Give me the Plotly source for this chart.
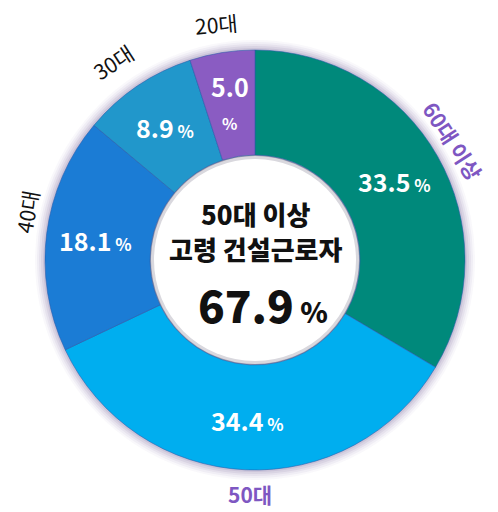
import math
import plotly.graph_objects as go

labels = ["60대 이상", "50대", "40대", "30대", "20대"]
values = [33.5, 34.4, 18.1, 8.9, 5.0]
colors = ["#00897B", "#00AEEF", "#1B7CD5", "#2197CB", "#8A5CC2"]
pct_text = ["33.5", "34.4", "18.1", "8.9", "5.0"]
center_lines = ["50대 이상", "고령 건설근로자"]
center_value = "67.9"

W, H = 490, 504          # figure size (page adds an 8px body margin)
OX, OY = 8, 8
cx, cy, R = 255, 260, 210  # target pixels in the page
hole = 0.5

def px(x):
    return (x - OX) / W

def py(y):
    return 1 - (y - OY) / H

def px_circle(r):
    return dict(x0=px(cx - r), x1=px(cx + r), y0=py(cy + r), y1=py(cy - r))

shapes = []
for i, a in enumerate([0.04, 0.06, 0.08, 0.10, 0.12]):
    r = R + 10 - 2 * i
    shapes.append(dict(type="circle", xref="paper", yref="paper", layer="below",
                       fillcolor=f"rgba(110,85,150,{a})", line=dict(width=0), **px_circle(r)))
rh = R * hole
shapes.append(dict(type="circle", xref="paper", yref="paper", layer="below",
                   fillcolor="rgba(110,110,120,0.45)", line=dict(width=0), **px_circle(rh + 2)))
shapes.append(dict(type="circle", xref="paper", yref="paper", layer="below",
                   fillcolor="rgba(255,255,255,0.6)", line=dict(width=0), **px_circle(rh - 1)))
shapes.append(dict(type="circle", xref="paper", yref="paper", layer="below",
                   fillcolor="#ffffff", line=dict(width=0), **px_circle(rh - 4)))

fig = go.Figure(go.Pie(
    labels=labels, values=values, sort=False, direction="clockwise", rotation=0,
    hole=hole,
    marker=dict(colors=colors, line=dict(color="rgba(40,90,170,0.55)", width=1)),
    textinfo="none",
    domain=dict(x=[px(cx - R), px(cx + R)], y=[py(cy + R), py(cy - R)]),
    hoverinfo="skip",
))

font_k = "Noto Sans CJK KR"
annotations = []
# value labels placed at the middle of each slice (angles derived from the data)
total = sum(values)
cum = 0.0
rmid = R * 0.765
for v, t in zip(values, pct_text):
    ang = (cum + v / 2) / total * 2 * math.pi
    cum += v
    x = cx + rmid * math.sin(ang)
    y = cy - rmid * math.cos(ang)
    if v < 6:
        txt = f"{t}<br><span style='font-size:16px'>%</span>"
    else:
        txt = f"{t}<span style='font-size:17px'> %</span>"
    annotations.append(dict(text=txt, x=px(x), y=py(y), xanchor="center", yanchor="middle",
                            showarrow=False,
                            font=dict(family=font_k, size=25, color="white", weight="bold")))

def ann(text, x, y, size, color="#111111", angle=0, weight="normal"):
    return dict(text=text, x=px(x), y=py(y), xanchor="center", yanchor="middle",
                showarrow=False, textangle=angle,
                font=dict(family=font_k, size=size, color=color, weight=weight))

annotations += [
    ann(center_lines[0], cx, 213, 26, weight=900),
    ann(center_lines[1], cx, 248, 26, weight=900),
    ann(f"{center_value}<span style='font-size:28px'> %</span>", cx + 8, 304, 44, weight=900),
    ann("20대", 216, 24, 21, angle=-5),
    ann("30대", 113, 62, 21, angle=-33),
    ann("40대", 27, 212, 21, angle=-80),
    ann("60대 이상", 453, 141, 21, color="#7E57C2", angle=57, weight="bold"),
    ann("50대", 250, 494, 21, color="#7E57C2", weight="bold"),
]

fig.update_layout(
    width=W, height=H, margin=dict(l=0, r=0, t=0, b=0),
    paper_bgcolor="white", plot_bgcolor="white", showlegend=False,
    shapes=shapes, annotations=annotations,
)
fig.write_html("out.html")
